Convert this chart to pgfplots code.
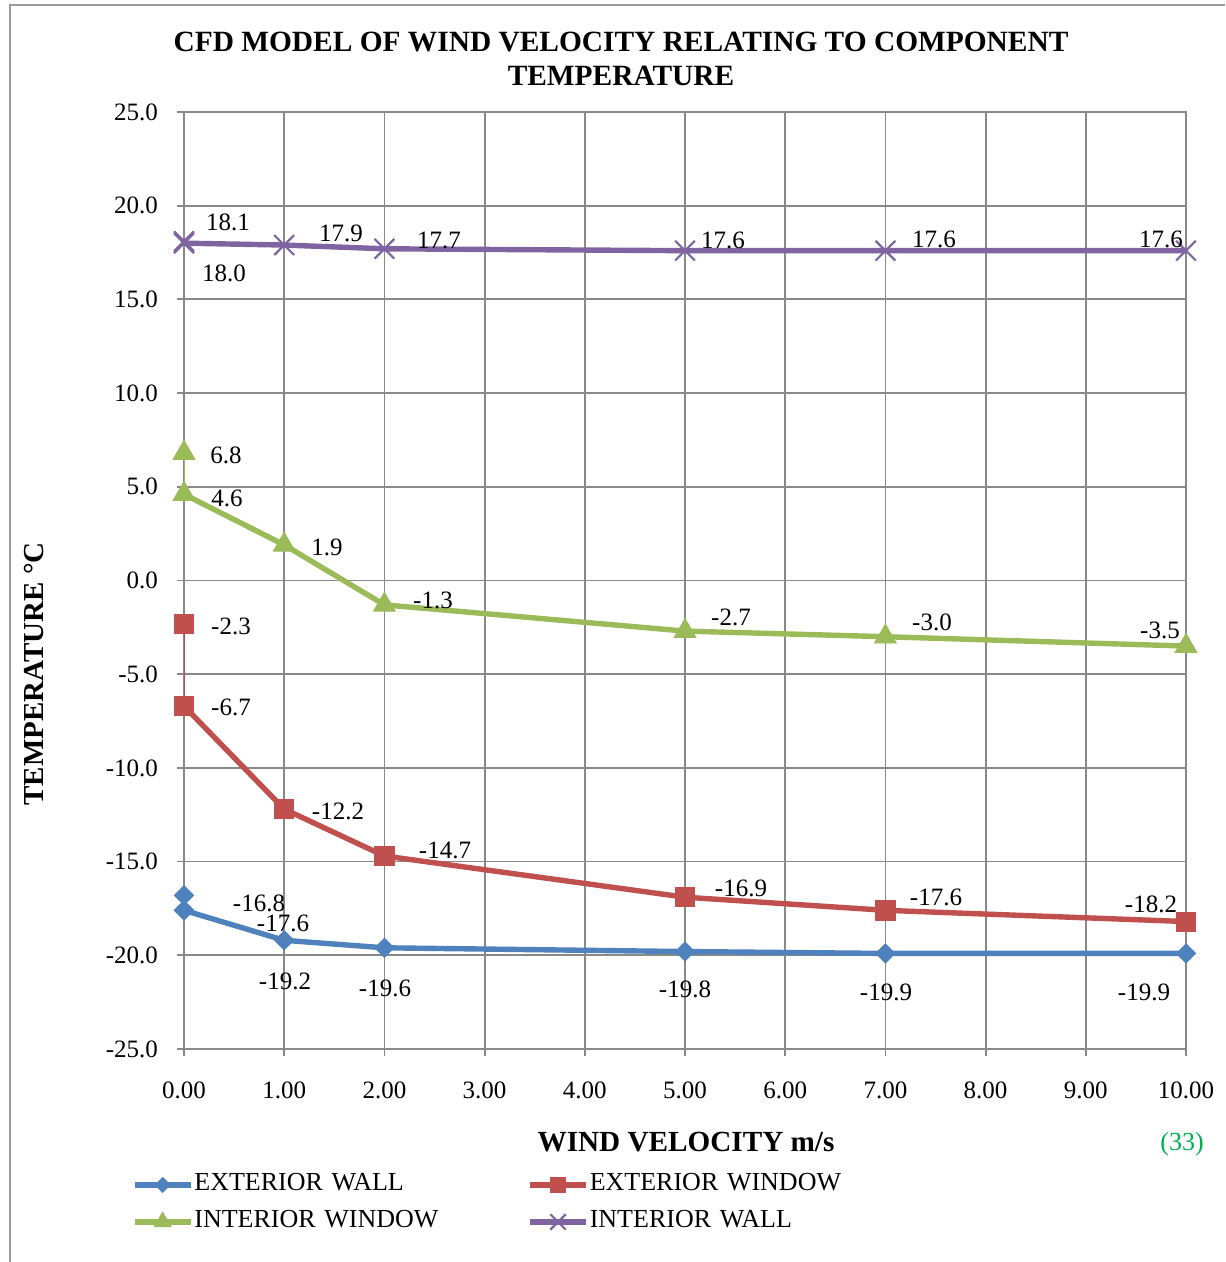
\documentclass[border=0pt]{standalone}
\usepackage{pgfplots}
\pgfplotsset{compat=1.18}
\usepackage{fontspec}
\setmainfont{Liberation Serif}
\definecolor{cblue}{HTML}{4F81BD}
\definecolor{cred}{HTML}{C0504D}
\definecolor{cgreen}{HTML}{9BBB59}
\definecolor{cpurple}{HTML}{8064A2}
\definecolor{cgrid}{HTML}{898989}
\definecolor{cnum}{HTML}{00B050}
\begin{document}
\begin{tikzpicture}
\begin{axis}[
  at={(0,0)}, anchor=south west,
  scale only axis, width=501pt, height=468.5pt,
  xmin=0, xmax=10, ymin=-25, ymax=25,
  xtick={0,1,...,10}, ytick={-25,-20,...,25},
  grid=major, major grid style={cgrid, line width=0.9pt},
  axis line style={cgrid, line width=0.9pt},
  tick style={cgrid, line width=0.9pt},
  tick align=outside, major tick length=3.5pt, tick pos=left,
  /pgf/number format/assume math mode=true,
  ticklabel style={font=\fontsize{12.5}{15}\selectfont},
  x tick label style={/pgf/number format/fixed, /pgf/number format/fixed zerofill, /pgf/number format/precision=2, yshift=-9.5pt},
  y tick label style={/pgf/number format/fixed, /pgf/number format/fixed zerofill, /pgf/number format/precision=1, xshift=-6pt},
  legend columns=2,
  legend cell align=left,
  legend style={draw=none, fill=none, at={(-0.0519,-0.1312)}, anchor=north west,
    font=\fontsize{13}{15}\selectfont, inner sep=0pt, outer sep=0pt,
    row sep=5.5pt, column sep=0pt,
    nodes={inner sep=0.5pt, text height=9pt, text depth=3pt, text width=166pt, align=left}},
  legend image code/.code={
    \draw[mark repeat=2, mark phase=2] plot coordinates {(0pt,0pt) (14pt,0pt) (28pt,0pt)};
  },
  every legend image post/.style={/tikz/every mark/.append style={scale=0.78}},
]
% exterior wall
\addplot[color=cblue, line width=2.7pt, mark=square*, mark size=3.4pt,
  mark options={rotate=45, solid, line width=0.4pt}]
  coordinates {(0,-17.6) (1,-19.2) (2,-19.6) (5,-19.8) (7,-19.9) (10,-19.9)};
\addlegendentry{EXTERIOR WALL}
% exterior window
\addplot[color=cred, line width=2.7pt, mark=square*, mark size=4.8pt,
  mark options={solid, line width=0.4pt}]
  coordinates {(0,-6.7) (1,-12.2) (2,-14.7) (5,-16.9) (7,-17.6) (10,-18.2)};
\addlegendentry{EXTERIOR WINDOW}
% interior window
\addplot[color=cgreen, line width=2.7pt, mark=triangle*, mark size=6.3pt,
  mark options={solid, line width=0.4pt}]
  coordinates {(0,4.6) (1,1.9) (2,-1.3) (5,-2.7) (7,-3.0) (10,-3.5)};
\addlegendentry{INTERIOR WINDOW}
% interior wall
\addplot[color=cpurple, line width=2.7pt, mark=x, mark size=7pt,
  mark options={solid, line width=1.1pt}]
  coordinates {(0,18.0) (1,17.9) (2,17.7) (5,17.6) (7,17.6) (10,17.6)};
\addlegendentry{INTERIOR WALL}
% first points at x = 0
\addplot[forget plot, color=cblue, line width=1pt, mark=square*, mark size=3.4pt,
  mark options={rotate=45, solid, line width=0.4pt}]
  coordinates {(0,-16.8) (0,-17.6)};
\addplot[forget plot, color=cred, line width=1pt, mark=square*, mark size=4.8pt,
  mark options={solid, line width=0.4pt}]
  coordinates {(0,-2.3) (0,-6.7)};
\addplot[forget plot, color=cgreen, line width=1pt, mark=triangle*, mark size=6.3pt,
  mark options={solid, line width=0.4pt}]
  coordinates {(0,6.8) (0,4.6)};
\addplot[forget plot, color=cpurple, line width=1pt, mark=x, mark size=7pt,
  mark options={solid, line width=1.1pt}]
  coordinates {(0,18.1) (0,18.0)};
\end{axis}
\begin{scope}[x=0.5pt, y=-0.5pt, shift={(-92pt,524.5pt)},
  lbl/.style={font=\fontsize{12.5}{15}\selectfont, inner sep=0pt}]
\draw[cgrid!85, line width=1pt] (10,1262) -- (10,5) -- (1225,5);
\node[font=\bfseries\fontsize{14.7}{17}\selectfont, anchor=base] at (621,52) {CFD MODEL OF WIND VELOCITY RELATING TO COMPONENT};
\node[font=\bfseries\fontsize{14.7}{17}\selectfont, anchor=base] at (621,86) {TEMPERATURE};
\node[font=\bfseries\fontsize{14.6}{17}\selectfont, anchor=base] at (686,1152) {WIND VELOCITY m/s};
\node[font=\fontsize{13}{15}\selectfont, anchor=base, text=cnum] at (1182,1151) {(33)};
\node[font=\bfseries\fontsize{14.5}{17}\selectfont, rotate=90, inner sep=0pt] at (34,674) {TEMPERATURE °C};
% interior wall labels
\node[lbl] at (228,222) {18.1};
\node[lbl] at (224,273) {18.0};
\node[lbl] at (341,233) {17.9};
\node[lbl] at (439,240) {17.7};
\node[lbl] at (723,240) {17.6};
\node[lbl] at (934,239) {17.6};
\node[lbl] at (1161,239) {17.6};
% interior window labels
\node[lbl] at (226,455) {6.8};
\node[lbl] at (227,498) {4.6};
\node[lbl] at (327,547) {1.9};
\node[lbl] at (433,600) {-1.3};
\node[lbl] at (731,617) {-2.7};
\node[lbl] at (932,622) {-3.0};
\node[lbl] at (1160,630) {-3.5};
% exterior window labels
\node[lbl] at (231,626) {-2.3};
\node[lbl] at (231,707) {-6.7};
\node[lbl] at (338,811) {-12.2};
\node[lbl] at (445,850) {-14.7};
\node[lbl] at (741,888) {-16.9};
\node[lbl] at (936,897) {-17.6};
\node[lbl] at (1151,904) {-18.2};
% exterior wall labels
\node[lbl] at (259,903) {-16.8};
\node[lbl] at (283,923) {-17.6};
\node[lbl] at (285,981) {-19.2};
\node[lbl] at (385,988) {-19.6};
\node[lbl] at (685,989) {-19.8};
\node[lbl] at (886,992) {-19.9};
\node[lbl] at (1144,992) {-19.9};
\pgfresetboundingbox
\useasboundingbox (0,0) rectangle (1225,1262);
\end{scope}
\end{tikzpicture}
\end{document}
